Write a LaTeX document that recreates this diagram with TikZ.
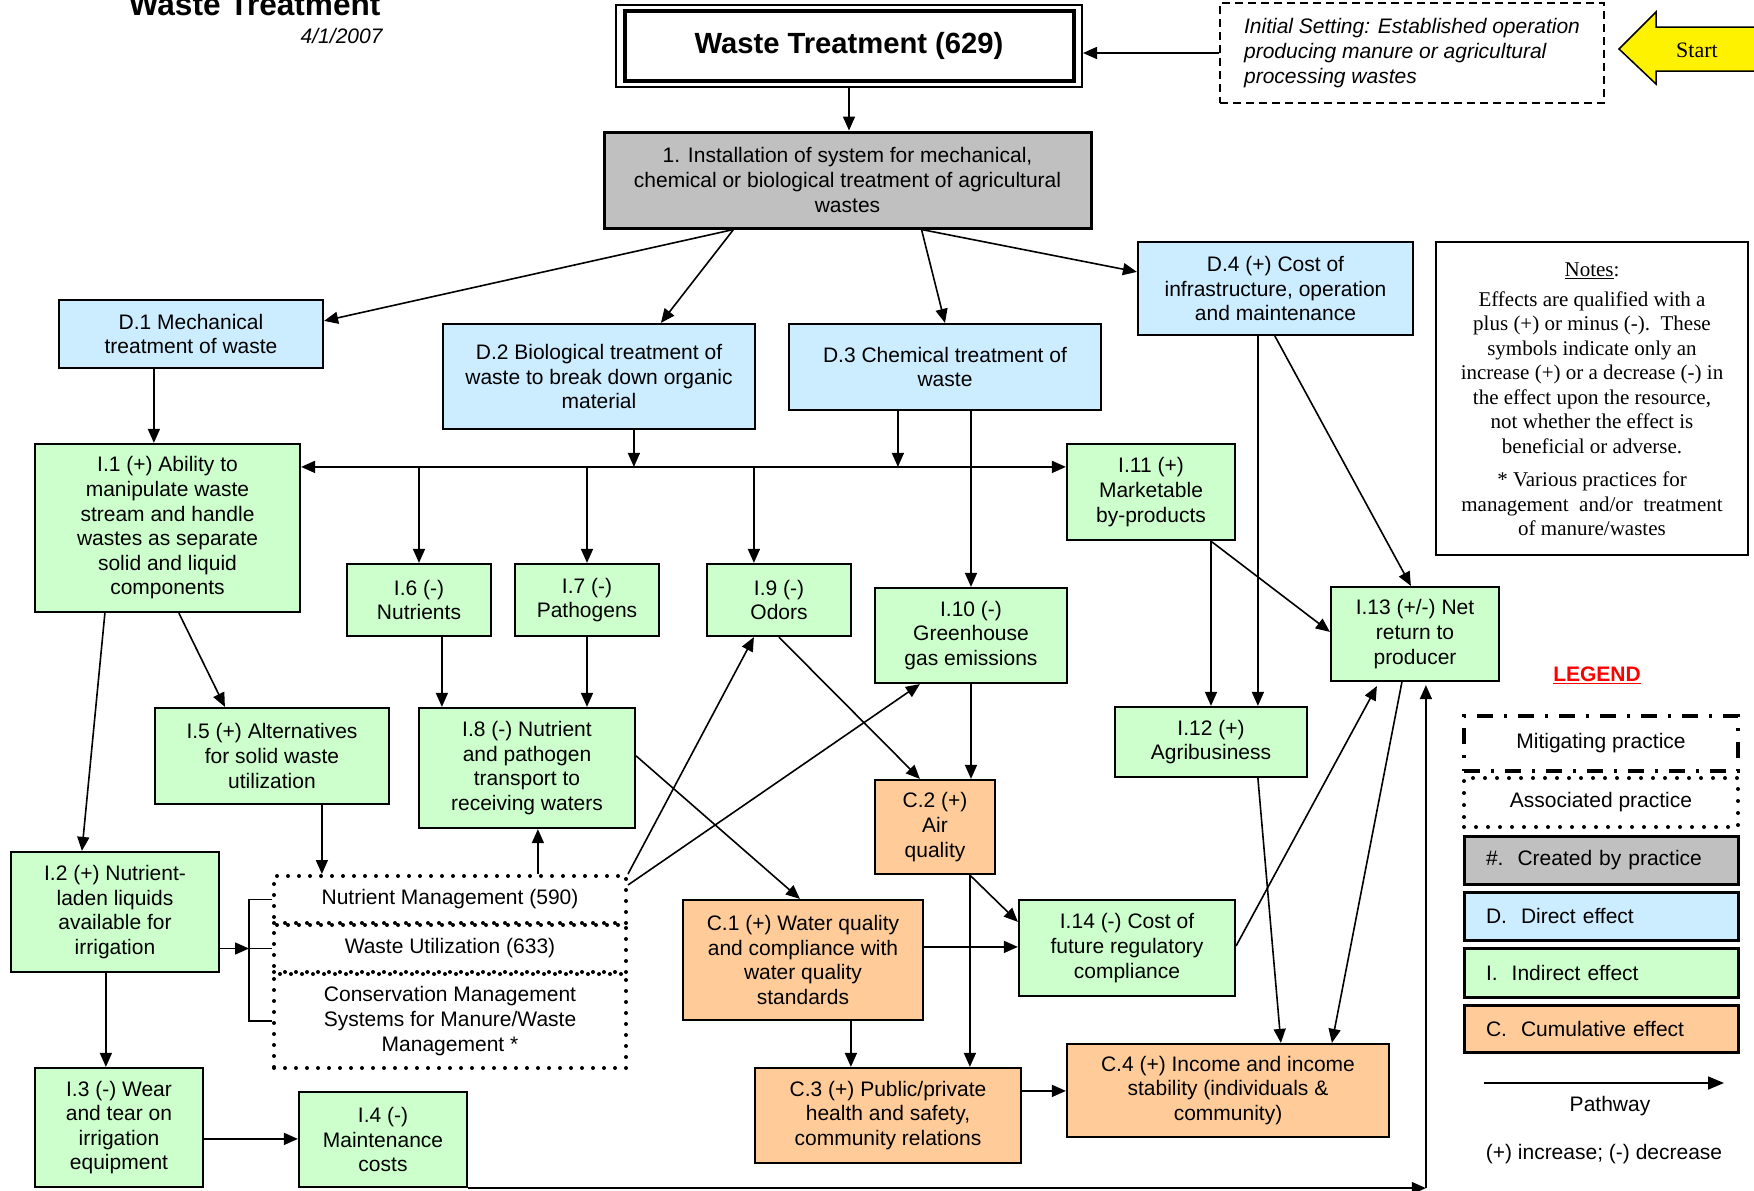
\documentclass[tikz,border=0pt]{standalone}
\usepackage{fontspec}
\setmainfont{Liberation Sans}
\newfontfamily\notesfont{Liberation Serif}
\usetikzlibrary{arrows.meta,calc}

\definecolor{dirblue}{HTML}{CCECFF}
\definecolor{indgreen}{HTML}{CCFFCC}
\definecolor{cumorange}{HTML}{FFCC99}
\definecolor{practgray}{HTML}{C0C0C0}

\begin{document}
\begin{tikzpicture}[x=1pt,y=-1pt,
  font=\fontsize{21}{24.6}\selectfont,
  >={Triangle[length=14pt,width=12pt]},
  sz/.style 2 args={minimum width=#1pt, minimum height=#2pt},
  box/.style={draw, line width=2.2pt, align=center, inner sep=2pt},
  dbox/.style={box, fill=dirblue},
  ibox/.style={box, fill=indgreen},
  cbox/.style={box, fill=cumorange},
  gbox/.style={box, fill=practgray, line width=3pt},
  dotbox/.style={draw, line width=4pt, line cap=round, dash pattern=on 0pt off 11pt, align=center, inner sep=0pt},
  legbox/.style={draw, line width=3pt, sz={274}{48}, text width=230pt, align=left, inner sep=2pt},
  arr/.style={draw, line width=1.6pt, ->},
  link/.style={draw, line width=1.6pt},
]
\useasboundingbox (0,0) rectangle (1754,1191);

% ---------- heading ----------
\node[anchor=base east, font=\fontsize{31.6}{36}\selectfont\bfseries] (title) at (384,16) {Waste Treatment};
\node[anchor=base east, font=\fontsize{21}{24.6}\selectfont\itshape] (date) at (386,43) {4/1/2007};

% ---------- practice ----------
\node[draw, line width=2pt, sz={466}{82}, font=\fontsize{29.2}{34}\selectfont\bfseries] (wt) at (849,46) {Waste Treatment (629)};
\draw[line width=3.5pt] ($(wt.north west)+(10,7)$) rectangle ($(wt.south east)+(-9,-7)$);

\node[draw, line width=1.5pt, dash pattern=on 8pt off 5pt, sz={384}{100}, align=left,
      font=\fontsize{21}{24.6}\selectfont\itshape] (init) at (1412,53)
  {Initial Setting: Established operation\\producing manure or agricultural\\processing wastes};

% start arrow
\path[draw, fill=yellow, line width=1.5pt] (1619,49) -- (1656,12) -- (1656,27) -- (1770,27)
  -- (1770,71) -- (1656,71) -- (1656,84) -- cycle;
\node[font=\notesfont\fontsize{22}{26}\selectfont] (start) at (1697,50) {Start};

\node[gbox, sz={487}{96}] (p1) at (847.5,180)
  {1. Installation of system for mechanical,\\chemical or biological treatment of agricultural\\wastes};

% ---------- direct effects ----------
\node[dbox, sz={264}{68}] (D1) at (191,334) {D.1 Mechanical\\treatment of waste};
\node[dbox, sz={312}{105}] (D2) at (599,376.5) {D.2 Biological treatment of\\waste to break down organic\\material};
\node[dbox, sz={312}{86}] (D3) at (945,367) {D.3 Chemical treatment of\\waste};
\node[dbox, sz={275}{93}] (D4) at (1275.5,288.5) {D.4 (+) Cost of\\infrastructure, operation\\and maintenance};

% ---------- notes ----------
\node[draw, line width=2pt, sz={312}{313}] (notes) at (1592,398.5) {};
\node[anchor=north, align=center, inner sep=0pt, font=\notesfont\fontsize{21}{24.5}\selectfont] (notestext)
  at ($(notes.north)+(0,22)$)
  {\underline{Notes}:\\[5pt]
   Effects are qualified with a\\
   plus (+) or minus (-).\ \ These\\
   symbols indicate only an\\
   increase (+) or a decrease (-) in\\
   the effect upon the resource,\\
   not whether the effect is\\
   beneficial or adverse.\\[9pt]
   * Various practices for\\
   management\ \ and/or\ \ treatment\\
   of manure/wastes};

% ---------- indirect effects ----------
\node[ibox, sz={265}{168}] (I1) at (167.5,528) {I.1 (+) Ability to\\manipulate waste\\stream and handle\\wastes as separate\\solid and liquid\\components};
\node[ibox, sz={144}{72}] (I6) at (419,600) {I.6 (-)\\Nutrients};
\node[ibox, sz={144}{72}] (I7) at (587,600) {I.7 (-)\\Pathogens};
\node[ibox, sz={144}{72}] (I9) at (779,600) {I.9 (-)\\Odors};
\node[ibox, sz={192}{95}] (I10) at (971,635.5) {I.10 (-)\\Greenhouse\\gas emissions};
\node[ibox, sz={168}{96}] (I11) at (1151,492) {I.11 (+)\\Marketable\\by-products};
\node[ibox, sz={192}{70}] (I12) at (1211,742) {I.12 (+)\\Agribusiness};
\node[ibox, sz={168}{94}] (I13) at (1415,634) {I.13 (+/-) Net\\return to\\producer};
\node[ibox, sz={234}{96}] (I5) at (272,756) {I.5 (+) Alternatives\\for solid waste\\utilization};
\node[ibox, sz={216}{120}] (I8) at (527,768) {I.8 (-) Nutrient\\and pathogen\\transport to\\receiving waters};
\node[ibox, sz={208}{120}] (I2) at (115,912) {I.2 (+) Nutrient-\\laden liquids\\available for\\irrigation};
\node[ibox, sz={168}{119}] (I3) at (119,1127.5) {I.3 (-) Wear\\and tear on\\irrigation\\equipment};
\node[ibox, sz={168}{95}] (I4) at (383,1139.5) {I.4 (-)\\Maintenance\\costs};
\node[ibox, sz={216}{96}] (I14) at (1127,948) {I.14 (-) Cost of\\future regulatory\\compliance};

% ---------- cumulative effects ----------
\node[cbox, sz={240}{120}] (C1) at (803,960) {C.1 (+) Water quality\\and compliance with\\water quality\\standards};
\node[cbox, sz={120}{94}] (C2) at (935,827) {C.2 (+)\\Air\\quality};
\node[cbox, sz={266}{95}] (C3) at (888,1115.5) {C.3 (+) Public/private\\health and safety,\\community relations};
\node[cbox, sz={322}{93}] (C4) at (1228,1090.5) {C.4 (+) Income and income\\stability (individuals \&\\community)};

% ---------- associated practices ----------
\node[dotbox, sz={352}{47}] (nm) at (450,899.5) {Nutrient Management (590)};
\node[dotbox, sz={352}{47}] (wu) at (450,948.5) {Waste Utilization (633)};
\node[dotbox, sz={352}{94}] (cms) at (450,1021) {Conservation Management\\Systems for Manure/Waste\\Management *};

% ---------- legend ----------
\node[font=\fontsize{21}{24.6}\selectfont\bfseries, text=red] (legend) at (1597,675) {\underline{LEGEND}};
\node[draw, line width=4pt, dash pattern=on 16pt off 11pt on 3pt off 11pt, sz={274}{55}] (lmit) at (1601,743.5) {Mitigating practice};
\node[dotbox, line width=4pt, dash pattern=on 0pt off 12pt, sz={274}{49}] (lassoc) at (1601,802.5) {Associated practice};
\node[legbox, fill=practgray] (lgray) at (1601,860) {\#.\ \ Created by practice};
\node[legbox, fill=dirblue] (lblue) at (1601,916) {D.\ \ Direct effect};
\node[legbox, fill=indgreen, sz={274}{49}] (lgreen) at (1601,972.5) {I.\ \ Indirect effect};
\node[legbox, fill=cumorange, sz={274}{47}] (lorange) at (1601,1028.5) {C.\ \ Cumulative effect};
\coordinate (pwA) at (1484,1083);
\coordinate (pwB) at (1724,1083);
\draw[arr, -{Triangle[length=16pt,width=13pt]}] (pwA) -- (pwB);
\node (pathway) at (1610,1106) {Pathway};
\node (signs) at (1604,1154) {(+) increase; (-) decrease};

% ---------- pathways ----------
\draw[arr] (init.west) -- (init.west -| wt.east);
\draw[arr] (wt.south) -- (wt.south |- p1.north);

\coordinate (p1a) at ($(p1.south west)+(131,0)$);
\coordinate (p1b) at ($(p1.south west)+(319,0)$);
\draw[arr] (p1a) -- ($(D1.north east)+(0,22)$);
\draw[arr] (p1a) -- ($(D2.north west)+(219,0)$);
\draw[arr] (p1b) -- (D3.north);
\draw[arr] (p1b) -- ($(D4.north west)+(0,31)$);

\coordinate (d1s) at ($(D1.south west)+(96,0)$);
\draw[arr] (d1s) -- (d1s |- I1.north);

% distribution line
\coordinate (busL) at ($(I1.north east)+(0,24)$);
\coordinate (busR) at ($(I11.north west)+(0,24)$);
\draw[line width=1.8pt, <->] (busL) -- (busR);
\coordinate (d2s) at ($(D2.south west)+(192,0)$);
\draw[arr] (d2s) -- (d2s |- busL);
\coordinate (d3s) at ($(D3.south west)+(110,0)$);
\draw[arr] (d3s) -- (d3s |- busL);
\draw[arr] (I6.north |- busL) -- (I6.north);
\draw[arr] (I7.north |- busL) -- (I7.north);
\coordinate (i9n) at ($(I9.north west)+(48,0)$);
\draw[arr] (i9n |- busL) -- (i9n);
\draw[arr] (I10.north |- D3.south) -- (I10.north);

\coordinate (d4a) at ($(D4.south west)+(121,0)$);
\draw[arr] (d4a) -- (d4a |- I12.north);
\draw[arr] ($(D4.south west)+(138,0)$) -- ($(I13.north west)+(81,0)$);

\draw[arr] (I12.north |- I11.south) -- (I12.north);
\draw[arr] ($(I11.south west)+(145,0)$) -- ($(I13.north west)+(0,46)$);

\coordinate (i6s) at ($(I6.south west)+(96,0)$);
\draw[arr] (i6s) -- (i6s |- I8.north);
\draw[arr] (I7.south) -- (I7.south |- I8.north);

\draw[arr] ($(I1.south west)+(145,0)$) -- ($(I5.north west)+(71,0)$);
\draw[arr] ($(I1.south west)+(71,0)$) -- ($(I2.north west)+(72,0)$);

\coordinate (i2s) at ($(I2.south west)+(96,0)$);
\draw[arr] (i2s) -- (i2s |- I3.north);
\coordinate (i3e) at ($(I3.north east)+(0,72)$);
\draw[arr] (i3e) -- (i3e -| I4.west);

\coordinate (i13s) at ($(I13.south west)+(96,3)$);
\coordinate (turn) at (i13s |- I4.south);
\draw[arr] (I4.south east) -- (turn);
\draw[arr] (turn) -- (i13s);

\coordinate (i5s) at ($(I5.south west)+(168,0)$);
\draw[arr] (i5s) -- (i5s |- nm.north);
\coordinate (i8s) at ($(I8.south west)+(120,0)$);
\draw[arr] (i8s |- nm.north) -- (i8s);
\draw[arr] (nm.north east) -- ($(I9.south west)+(48,0)$);
\draw[arr] ($(nm.north east)+(0,11)$) -- ($(I10.south west)+(46,0)$);

\coordinate (brM) at ($(wu.west)+(-23,0)$);
\draw[arr] (I2.east |- brM) -- (brM);
\draw[link] (nm.west) -- (nm.west -| brM) -- (cms.west -| brM) -- (cms.west);
\draw[link] (brM) -- (wu.west);

\draw[arr] ($(I8.north east)+(0,49)$) -- ($(C1.north west)+(118,0)$);
\draw[arr] ($(I9.south west)+(73,0)$) -- ($(C2.north west)+(46,0)$);
\draw[arr] (I10.south) -- (I10.south |- C2.north);

\coordinate (c2s) at ($(C2.south west)+(96,0)$);
\draw[arr] (c2s) -- (c2s |- C3.north);
\draw[arr] (c2s) -- ($(I14.north west)+(0,23)$);

\coordinate (c1e) at ($(C1.north east)+(0,48)$);
\draw[arr] (c1e) -- (c1e -| I14.west);
\coordinate (c1s) at ($(C1.south west)+(169,0)$);
\draw[arr] (c1s) -- (c1s |- C3.north);
\coordinate (c3e) at ($(C3.north east)+(0,24)$);
\draw[arr] (c3e) -- (c3e -| C4.west);

\draw[arr] ($(I12.south west)+(144,0)$) -- ($(C4.north west)+(215,0)$);
\draw[arr] ($(I13.south west)+(72,0)$) -- ($(C4.north west)+(266,0)$);
\draw[arr] ($(I14.north east)+(0,47)$) -- ($(I13.south west)+(47,4)$);

\end{tikzpicture}
\end{document}
